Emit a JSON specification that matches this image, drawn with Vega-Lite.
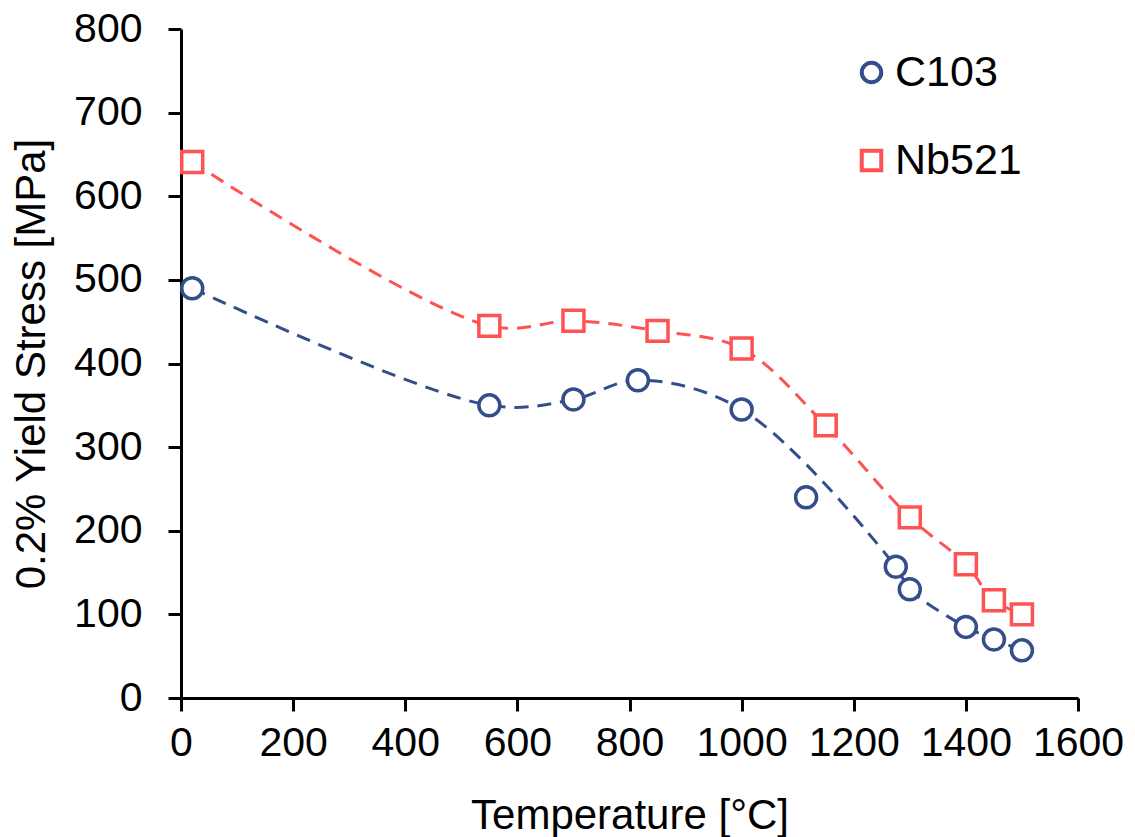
{
  "$schema": "https://vega.github.io/schema/vega-lite/v6.json",
  "width": 897,
  "height": 669,
  "autosize": {"type": "none"},
  "padding": {"left": 181, "top": 29, "right": 57, "bottom": 139},
  "background": "white",
  "config": {
    "view": {"stroke": null},
    "font": "Liberation Sans",
    "axis": {
      "grid": false,
      "domainColor": "black",
      "domainWidth": 3,
      "tickColor": "black",
      "tickWidth": 3,
      "tickSize": 13,
      "labelFont": "Liberation Sans",
      "labelFontSize": 41,
      "labelColor": "black",
      "labelOverlap": false,
      "labelFlush": false,
      "titleFont": "Liberation Sans",
      "titleFontSize": 42,
      "titleFontWeight": "normal",
      "titleColor": "black"
    },
    "legend": {
      "labelFont": "Liberation Sans",
      "labelFontSize": 43,
      "labelColor": "black"
    }
  },
  "data": {
    "values": [
      {"series": "C103", "T": 20, "stress": 490},
      {"series": "C103", "T": 550, "stress": 350},
      {"series": "C103", "T": 700, "stress": 357},
      {"series": "C103", "T": 815, "stress": 380},
      {"series": "C103", "T": 1000, "stress": 345},
      {"series": "C103", "T": 1115, "stress": 240},
      {"series": "C103", "T": 1275, "stress": 157},
      {"series": "C103", "T": 1300, "stress": 130},
      {"series": "C103", "T": 1400, "stress": 85},
      {"series": "C103", "T": 1450, "stress": 70},
      {"series": "C103", "T": 1500, "stress": 57},
      {"series": "Nb521", "T": 20, "stress": 641},
      {"series": "Nb521", "T": 550, "stress": 445},
      {"series": "Nb521", "T": 700, "stress": 451},
      {"series": "Nb521", "T": 850, "stress": 439},
      {"series": "Nb521", "T": 1000, "stress": 418},
      {"series": "Nb521", "T": 1150, "stress": 326},
      {"series": "Nb521", "T": 1300, "stress": 216},
      {"series": "Nb521", "T": 1400, "stress": 160},
      {"series": "Nb521", "T": 1450, "stress": 117},
      {"series": "Nb521", "T": 1500, "stress": 100}
    ]
  },
  "encoding": {
    "x": {
      "field": "T",
      "type": "quantitative",
      "scale": {"domain": [0, 1600], "nice": false, "zero": false},
      "axis": {"values": [0, 200, 400, 600, 800, 1000, 1200, 1400, 1600], "format": "d", "title": "Temperature [°C]", "labelPadding": 12, "titlePadding": 32}
    },
    "y": {
      "field": "stress",
      "type": "quantitative",
      "scale": {"domain": [0, 800], "nice": false},
      "axis": {"values": [0, 100, 200, 300, 400, 500, 600, 700, 800], "format": "d", "title": "0.2% Yield Stress [MPa]", "labelPadding": 26, "titlePadding": 20}
    }
  },
  "layer": [
    {
      "transform": [{"filter": "datum.series == 'C103' && datum.T != 1115"}],
      "mark": {"type": "line", "interpolate": "catmull-rom", "strokeWidth": 3, "strokeDash": [14, 9], "color": "#344E8C"}
    },
    {
      "transform": [{"filter": "datum.series == 'Nb521'"}],
      "mark": {"type": "line", "interpolate": "catmull-rom", "strokeWidth": 3, "strokeDash": [14, 9], "color": "#FF5252"}
    },
    {
      "mark": {"type": "point", "filled": false, "fill": "white", "strokeWidth": 3.5, "size": 440, "opacity": 1},
      "encoding": {
        "color": {
          "field": "series",
          "type": "nominal",
          "scale": {"domain": ["C103", "Nb521"], "range": ["#344E8C", "#FF5252"]},
          "legend": {
            "title": null,
            "orient": "none",
            "legendX": 669,
            "legendY": 22,
            "padding": 0,
            "rowPadding": 44,
            "labelOffset": 2,
            "symbolSize": 380,
            "symbolStrokeWidth": 4,
            "symbolFillColor": "white"
          }
        },
        "shape": {
          "field": "series",
          "type": "nominal",
          "scale": {"domain": ["C103", "Nb521"], "range": ["circle", "square"]}
        }
      }
    }
  ]
}
